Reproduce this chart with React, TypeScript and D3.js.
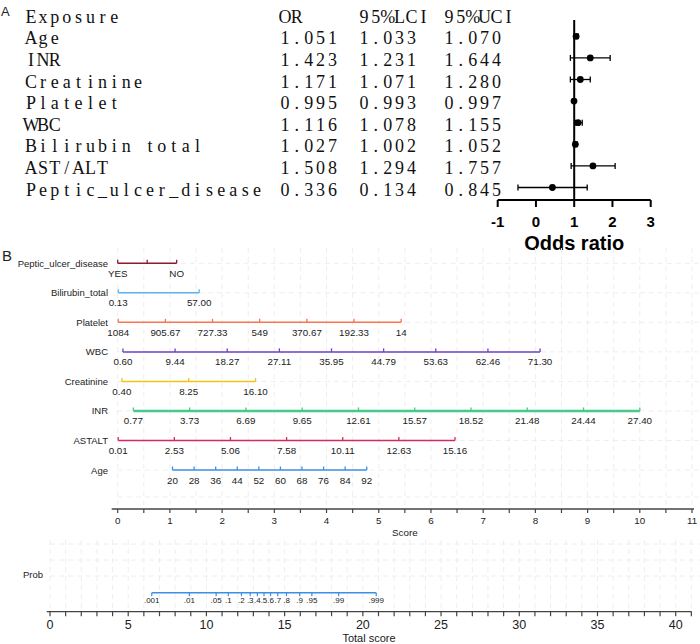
import * as d3 from 'd3';

// Panel A: table + forest plot
const exposures = ['Age', 'INR', 'Creatinine', 'Platelet', 'WBC', 'Bilirubin total', 'AST/ALT', 'Peptic_ulcer_disease'];
const orLabels = ['1.051', '1.423', '1.171', '0.995', '1.116', '1.027', '1.508', '0.336'];
const lciLabels = ['1.033', '1.231', '1.071', '0.993', '1.078', '1.002', '1.294', '0.134'];
const uciLabels = ['1.070', '1.644', '1.280', '0.997', '1.155', '1.052', '1.757', '0.845'];
const headers = ['Exposure', 'OR', '95%LCI', '95%UCI'];

// odds ratio marks as drawn in the forest plot
const orPlot = [1.05, 1.42, 1.16, 0.995, 1.1, 1.03, 1.49, 0.43];
const lowPlot = [1.0, 0.9, 0.9, 0.99, 1.03, 0.98, 0.92, -0.47];
const highPlot = [1.1, 1.94, 1.42, 1.0, 1.21, 1.08, 2.07, 1.34];
const orTicks = [-1, 0, 1, 2, 3];

// Panel B: nomogram
const nomoVars = ['Peptic_ulcer_disease', 'Bilirubin_total', 'Platelet', 'WBC', 'Creatinine', 'INR', 'ASTALT', 'Age'];
const nomoColors = ['#8E1B2B', '#5AB2EE', '#F8764E', '#6A40C6', '#F2C31A', '#45C98C', '#D62A5C', '#3B8FE6'];
const pepticTicks = ['YES', '', 'NO'];
const bilirubinTicks = ['0.13', '57.00'];
const plateletTicks = ['1084', '905.67', '727.33', '549', '370.67', '192.33', '14'];
const wbcTicks = ['0.60', '9.44', '18.27', '27.11', '35.95', '44.79', '53.63', '62.46', '71.30'];
const creatinineTicks = ['0.40', '8.25', '16.10'];
const inrTicks = ['0.77', '3.73', '6.69', '9.65', '12.61', '15.57', '18.52', '21.48', '24.44', '27.40'];
const astaltTicks = ['0.01', '2.53', '5.06', '7.58', '10.11', '12.63', '15.16'];
const ageTicks = ['20', '28', '36', '44', '52', '60', '68', '76', '84', '92'];
const nomoTicks = [pepticTicks, bilirubinTicks, plateletTicks, wbcTicks, creatinineTicks, inrTicks, astaltTicks, ageTicks];
// points at first and last tick of each variable
const nomoStart = [0, 0.01, 0.01, 0.1, 0.08, 0.3, 0.01, 1.05];
const nomoEnd = [1.13, 1.56, 5.43, 8.09, 2.64, 10.0, 6.46, 4.77];
const nomoWidth = [1.5, 1.5, 1.5, 1.5, 1.5, 2.6, 1.5, 1.5];

const probTicks = [0.001, 0.01, 0.05, 0.1, 0.2, 0.3, 0.4, 0.5, 0.6, 0.7, 0.8, 0.9, 0.95, 0.99, 0.999];
const probLabels = ['.001', '.01', '.05', '.1', '.2', '.3', '.4', '.5', '.6', '.7', '.8', '.9', '.95', '.99', '.999'];

const W = 700;
const H = 644;
const serif = '"Liberation Serif", "DejaVu Serif", serif';
const sans = '"Liberation Sans", Arial, sans-serif';
const colX = [25, 279, 358, 443];
const pitch = 11.9;

// serif glyphs laid out on a fixed pitch, like the SimSun table output
const MonoText = ({ x, y, s }: { x: number; y: number; s: string }) => (
  <text
    x={s.split('').map((_, k) => (x + k * pitch + pitch / 2).toFixed(1)).join(' ')}
    y={y}
    textAnchor="middle"
    fontFamily={serif}
    fontSize={18}
    fill="#111"
  >
    {s}
  </text>
);

export default function App() {
  // table / forest
  const rowBase = d3.scaleLinear().domain([0, 8]).range([22.7, 195.5]);
  const xOr = d3.scaleLinear().domain([-1, 3]).range([497.7, 650.7]);
  const forestAxisY = 200;

  // nomogram
  const xScore = d3.scaleLinear().domain([0, 11]).range([117.7, 692]);
  const xTotal = d3.scaleLinear().domain([0, 40]).range([50, 675.7]);
  const yRow = d3.scaleLinear().domain([0, 7]).range([263.3, 470]);
  const scoreTicks = d3.range(0, 11.01, 0.5);
  const totalTicks = d3.range(0, 42, 1);
  const probToTotal = (p: number) => 13.68 + Math.log(p / (1 - p)) / 0.9625;
  const scoreAxisY = 509;
  const totalAxisY = 611.7;
  const probY = 592.7;
  const gridCol = '#EEEEEE';

  return (
    <svg width={W} height={H} style={{ position: 'absolute', left: 0, top: 0, background: '#fff' }}>
      <rect width={W} height={H} fill="#fff" />

      {/* ---------- A ---------- */}
      <text x={1} y={16} fontFamily={sans} fontSize={13} fill="#222">A</text>
      {headers.map((h, j) => (
        <MonoText key={h} x={colX[j]} y={rowBase(0)} s={h} />
      ))}
      {exposures.map((e, i) => (
        <g key={e}>
          <MonoText x={colX[0]} y={rowBase(i + 1)} s={e} />
          <MonoText x={colX[1]} y={rowBase(i + 1)} s={orLabels[i]} />
          <MonoText x={colX[2]} y={rowBase(i + 1)} s={lciLabels[i]} />
          <MonoText x={colX[3]} y={rowBase(i + 1)} s={uciLabels[i]} />
        </g>
      ))}

      <line x1={xOr(1)} x2={xOr(1)} y1={20} y2={forestAxisY} stroke="#000" strokeWidth={2} />
      {orPlot.map((v, i) => {
        const cy = rowBase(i + 1) - 8;
        return (
          <g key={i} stroke="#000" strokeWidth={1.3}>
            <line x1={xOr(lowPlot[i])} x2={xOr(highPlot[i])} y1={cy} y2={cy} />
            <line x1={xOr(lowPlot[i])} x2={xOr(lowPlot[i])} y1={cy - 3} y2={cy + 3} />
            <line x1={xOr(highPlot[i])} x2={xOr(highPlot[i])} y1={cy - 3} y2={cy + 3} />
            <circle cx={xOr(v)} cy={cy} r={3.4} fill="#000" stroke="none" />
          </g>
        );
      })}
      <line x1={xOr(-1)} x2={xOr(3)} y1={forestAxisY} y2={forestAxisY} stroke="#000" strokeWidth={2} />
      {orTicks.map((t) => (
        <g key={t}>
          <line x1={xOr(t)} x2={xOr(t)} y1={forestAxisY} y2={forestAxisY + 7} stroke="#000" strokeWidth={2} />
          <text x={xOr(t)} y={227} textAnchor="middle" fontFamily={sans} fontWeight="bold" fontSize={15} fill="#000">{t}</text>
        </g>
      ))}
      <text x={xOr(1)} y={250} textAnchor="middle" fontFamily={sans} fontWeight="bold" fontSize={20} fill="#000">Odds ratio</text>

      {/* ---------- B ---------- */}
      <text x={2} y={261} fontFamily={sans} fontSize={15} fill="#222">B</text>

      {/* faint grid */}
      <g stroke={gridCol} strokeWidth={1} strokeDasharray="5,4">
        {scoreTicks.map((t) => (
          <line key={'gv' + t} x1={xScore(t)} x2={xScore(t)} y1={248} y2={scoreAxisY - 4} />
        ))}
        {nomoVars.map((v, i) => (
          <line key={'gh' + v} x1={xScore(0)} x2={W} y1={yRow(i)} y2={yRow(i)} />
        ))}
        <line x1={xScore(0)} x2={W} y1={497} y2={497} />
        {totalTicks.map((t) => (
          <line key={'pv' + t} x1={xTotal(t)} x2={xTotal(t)} y1={540} y2={totalAxisY - 3} />
        ))}
        {[544, 560, 576].map((y) => (
          <line key={'ph' + y} x1={xTotal(0)} x2={W} y1={y} y2={y} />
        ))}
      </g>

      {nomoVars.map((name, i) => {
        const ticks = nomoTicks[i];
        const pos = d3.scaleLinear().domain([0, ticks.length - 1]).range([nomoStart[i], nomoEnd[i]]);
        const y = yRow(i);
        return (
          <g key={name}>
            <text x={108} y={y + 3.5} textAnchor="end" fontFamily={sans} fontSize={9.5} fill="#222">{name}</text>
            <line x1={xScore(nomoStart[i])} x2={xScore(nomoEnd[i])} y1={y} y2={y} stroke={nomoColors[i]} strokeWidth={nomoWidth[i]} />
            {ticks.map((lab, k) => (
              <g key={k}>
                <line x1={xScore(pos(k))} x2={xScore(pos(k))} y1={y - 3.5} y2={y} stroke={nomoColors[i]} strokeWidth={1.3} />
                <text x={xScore(pos(k))} y={y + 13.5} textAnchor="middle" fontFamily={sans} fontSize={9.8} fill="#222">{lab}</text>
              </g>
            ))}
          </g>
        );
      })}

      {/* score axis */}
      <line x1={111.7} x2={694} y1={scoreAxisY} y2={scoreAxisY} stroke="#444" strokeWidth={1.3} />
      {scoreTicks.map((t) => (
        <line key={'st' + t} x1={xScore(t)} x2={xScore(t)} y1={scoreAxisY} y2={scoreAxisY + 4} stroke="#444" strokeWidth={1.2} />
      ))}
      {scoreTicks.filter((t) => Number.isInteger(t)).map((t) => (
        <text key={'sl' + t} x={xScore(t)} y={524} textAnchor="middle" fontFamily={sans} fontSize={9.8} fill="#222">{t}</text>
      ))}
      <text x={xScore(5.5)} y={536} textAnchor="middle" fontFamily={sans} fontSize={9.8} fill="#222">Score</text>

      {/* probability */}
      <text x={43} y={578} textAnchor="end" fontFamily={sans} fontSize={9.5} fill="#222">Prob</text>
      <line x1={xTotal(probToTotal(probTicks[0]))} x2={xTotal(probToTotal(probTicks[probTicks.length - 1]))} y1={probY} y2={probY} stroke="#3B8FE6" strokeWidth={1.5} />
      {probTicks.map((p, k) => (
        <g key={'p' + k}>
          <line x1={xTotal(probToTotal(p))} x2={xTotal(probToTotal(p))} y1={probY} y2={probY + 3.5} stroke="#3B8FE6" strokeWidth={1.2} />
          <text x={xTotal(probToTotal(p))} y={603} textAnchor="middle" fontFamily={sans} fontSize={8} fill="#222">{probLabels[k]}</text>
        </g>
      ))}

      {/* total score axis */}
      <line x1={46.7} x2={691.7} y1={totalAxisY} y2={totalAxisY} stroke="#444" strokeWidth={1.3} />
      {totalTicks.map((t) => (
        <line key={'tt' + t} x1={xTotal(t)} x2={xTotal(t)} y1={totalAxisY} y2={totalAxisY + 4.5} stroke="#444" strokeWidth={1.2} />
      ))}
      {totalTicks.filter((t) => t % 5 === 0).map((t) => (
        <text key={'tl' + t} x={xTotal(t)} y={629} textAnchor="middle" fontFamily={sans} fontSize={12.5} fill="#222">{t}</text>
      ))}
      <text x={369} y={642} textAnchor="middle" fontFamily={sans} fontSize={11} fill="#222">Total score</text>
    </svg>
  );
}
